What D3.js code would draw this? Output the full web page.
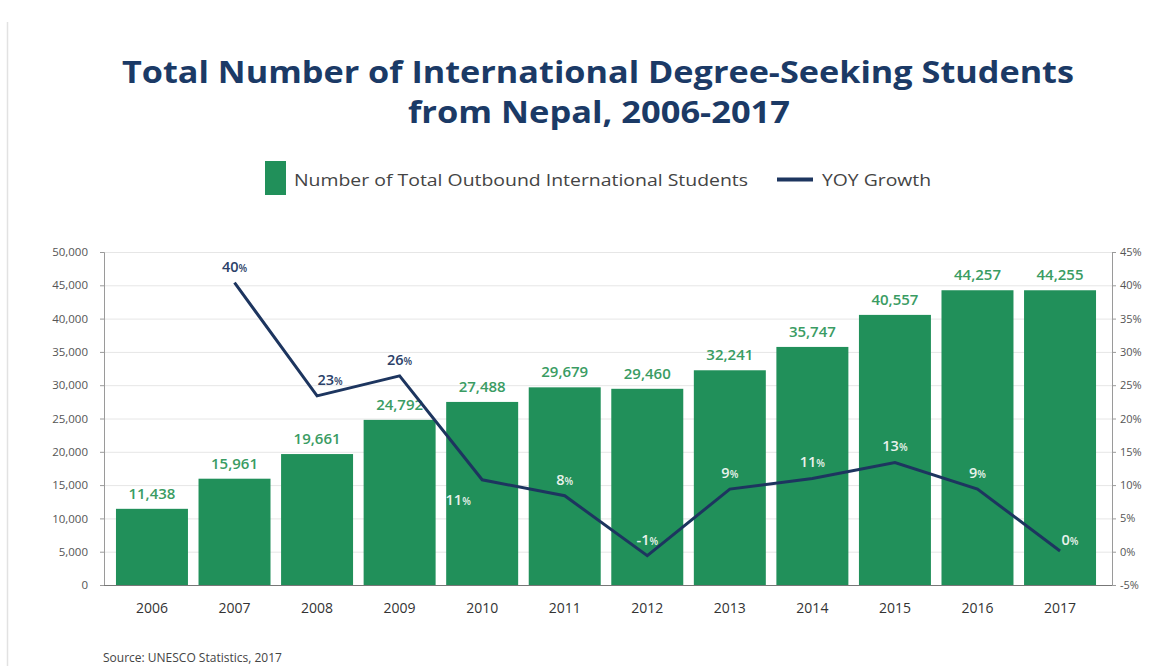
<!DOCTYPE html>
<html>
<head>
<meta charset="utf-8">
<script src="https://cdn.jsdelivr.net/npm/d3@7"></script>
<style>
  html, body { margin: 0; padding: 0; background: #fff; }
  svg { display: block; font-family: "Open Sans", "DejaVu Sans", sans-serif; }
</style>
</head>
<body>
<svg id="chart" width="1157" height="666"></svg>
<script>
// Outbound degree-seeking students from Nepal (UNESCO)
const years = ["2006", "2007", "2008", "2009", "2010", "2011", "2012", "2013", "2014", "2015", "2016", "2017"];
const students = [11438, 15961, 19661, 24792, 27488, 29679, 29460, 32241, 35747, 40557, 44257, 44255];
// Year-over-year growth, percent (no value for the first year)
const growth = [null, 40.4, 23.4, 26.4, 10.8, 8.4, -0.6, 9.4, 11.0, 13.4, 9.4, 0.1];
const leftTicks = [0, 5000, 10000, 15000, 20000, 25000, 30000, 35000, 40000, 45000, 50000];
const rightTicks = [-5, 0, 5, 10, 15, 20, 25, 30, 35, 40, 45];

const titleLines = ["Total Number of International Degree-Seeking Students", "from Nepal, 2006-2017"];
const legendLabels = ["Number of Total Outbound International Students", "YOY Growth"];
const sourceText = "Source: UNESCO Statistics, 2017";

const GREEN = "#21905a";
const GREEN_TEXT = "#3a9c63";
const NAVY = "#1d355f";
const TITLE = "#1b3a66";

const svg = d3.select("#chart");

// frame line on the left edge of the page
svg.append("line")
  .attr("x1", 7.5).attr("x2", 7.5).attr("y1", 22).attr("y2", 666)
  .attr("stroke", "#e2e2e2").attr("stroke-width", 1.5);

// Title: two centred lines stretched to a set width
svg.append("text").attr("x", 598).attr("y", 83)
  .attr("text-anchor", "middle").attr("font-weight", 700).attr("fill", TITLE)
  .attr("font-size", 30).attr("textLength", 952).attr("lengthAdjust", "spacingAndGlyphs")
  .text(titleLines[0]);
svg.append("text").attr("x", 599).attr("y", 123)
  .attr("text-anchor", "middle").attr("font-weight", 700).attr("fill", TITLE)
  .attr("font-size", 30).attr("textLength", 382).attr("lengthAdjust", "spacingAndGlyphs")
  .text(titleLines[1]);

// Legend
svg.append("rect").attr("x", 265).attr("y", 161).attr("width", 21).attr("height", 34).attr("fill", GREEN);
svg.append("text").attr("x", 294).attr("y", 185.5).attr("fill", "#444")
  .attr("font-size", 16.5).attr("textLength", 454).attr("lengthAdjust", "spacingAndGlyphs")
  .text(legendLabels[0]);
svg.append("line").attr("x1", 777).attr("x2", 813).attr("y1", 179.5).attr("y2", 179.5)
  .attr("stroke", NAVY).attr("stroke-width", 4);
svg.append("text").attr("x", 822).attr("y", 185.5).attr("fill", "#444")
  .attr("font-size", 16.5).attr("textLength", 109).attr("lengthAdjust", "spacingAndGlyphs")
  .text(legendLabels[1]);

// Scales
const plotLeft = 104, plotRight = 1112, plotTop = 252, plotBottom = 585;
const x = d3.scaleBand().domain(years).range([plotLeft, 1108]).paddingInner(0.128).paddingOuter(0.145);
const y = d3.scaleLinear().domain([0, 50000]).range([plotBottom, plotTop]);
const yPct = d3.scaleLinear().domain([-5, 45]).range([plotBottom, plotTop]);

// Gridlines
svg.append("g").selectAll("line").data(leftTicks.slice(1)).join("line")
  .attr("x1", plotLeft).attr("x2", plotRight)
  .attr("y1", d => y(d) + 0.5).attr("y2", d => y(d) + 0.5)
  .attr("stroke", "#e6e6e6").attr("stroke-width", 1);

// Left axis
const leftAxis = svg.append("g").attr("transform", `translate(${plotLeft},0)`)
  .call(d3.axisLeft(y).tickValues(leftTicks).tickSize(4).tickPadding(12).tickFormat(d3.format(",")));
leftAxis.select(".domain").attr("stroke", "#9a9a9a");
leftAxis.selectAll(".tick line").attr("stroke", "#9a9a9a");
leftAxis.selectAll("text").attr("font-size", 11.5).attr("fill", "#555")
  .attr("font-family", "\"Open Sans\", sans-serif");

// Right axis
const rightAxis = svg.append("g").attr("transform", `translate(${plotRight},0)`)
  .call(d3.axisRight(yPct).tickValues(rightTicks).tickSize(4).tickPadding(4).tickFormat(d => d + "%"));
rightAxis.select(".domain").attr("stroke", "#9a9a9a");
rightAxis.selectAll(".tick line").attr("stroke", "#9a9a9a");
rightAxis.selectAll("text").attr("font-size", 11).attr("fill", "#555")
  .attr("font-family", "\"Open Sans\", sans-serif");

// Bars
svg.append("g").selectAll("rect").data(students).join("rect")
  .attr("x", (d, i) => x(years[i]))
  .attr("y", d => y(d))
  .attr("width", x.bandwidth())
  .attr("height", d => plotBottom - y(d))
  .attr("fill", GREEN);

// Bottom axis
const bottomAxis = svg.append("g").attr("transform", `translate(0,${plotBottom})`)
  .call(d3.axisBottom(x).tickSize(0).tickPadding(18));
bottomAxis.select(".domain").remove();
bottomAxis.selectAll("text").attr("font-size", 14).attr("fill", "#333").attr("font-weight", 500)
  .attr("font-family", "\"Open Sans\", sans-serif");
svg.append("line").attr("x1", plotLeft).attr("x2", plotRight)
  .attr("y1", plotBottom + 0.5).attr("y2", plotBottom + 0.5)
  .attr("stroke", "#777").attr("stroke-width", 1.2);

// Bar value labels
svg.append("g").selectAll("text").data(students).join("text")
  .attr("x", (d, i) => x(years[i]) + x.bandwidth() / 2)
  .attr("y", d => y(d) - 10)
  .attr("text-anchor", "middle")
  .attr("font-size", 15).attr("font-weight", 600).attr("fill", GREEN_TEXT)
  .text(d => d3.format(",")(d));

// Growth line
const pts = growth.map((g, i) => ({ year: years[i], g, n: students[i] })).filter(d => d.g !== null);
const cx = d => x(d.year) + x.bandwidth() / 2;
svg.append("path").datum(pts)
  .attr("d", d3.line().x(cx).y(d => yPct(d.g)))
  .attr("fill", "none").attr("stroke", NAVY).attr("stroke-width", 3)
  .attr("stroke-linejoin", "miter");

// Growth labels; a few are moved off the line for legibility
const nudge = { "2008": [13, -11], "2010": [-24, 25], "2017": [10, -6] };
const labelY = d => yPct(d.g) + (nudge[d.year] ? nudge[d.year][1] : -11);
const gl = svg.append("g").selectAll("text").data(pts).join("text")
  .attr("x", d => cx(d) + (nudge[d.year] ? nudge[d.year][0] : 0))
  .attr("y", labelY)
  .attr("text-anchor", "middle")
  .attr("font-weight", 600)
  .attr("fill", d => (labelY(d) - 5 > y(d.n) ? "#e9f2ec" : "#2b4168"));
gl.append("tspan").attr("font-size", 14.5).text(d => Math.round(d.g));
gl.append("tspan").attr("font-size", 10).text("%");

// Source
svg.append("text").attr("x", 103).attr("y", 662)
  .attr("font-size", 12).attr("fill", "#444")
  .text(sourceText);
</script>
</body>
</html>
